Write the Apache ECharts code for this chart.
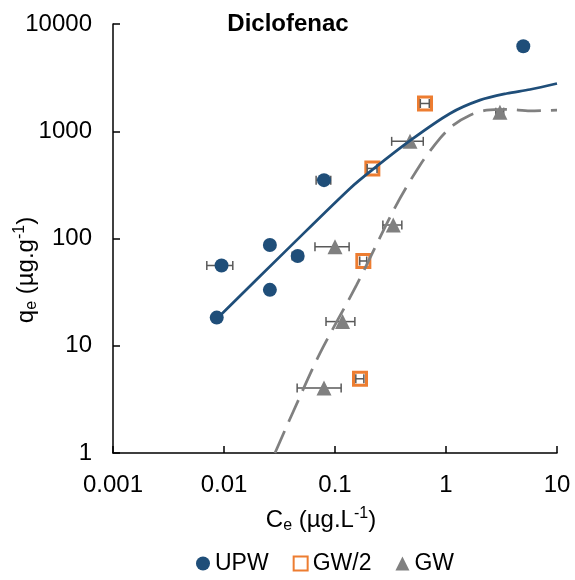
<!DOCTYPE html>
<html>
<head>
<meta charset="utf-8">
<script src="https://cdn.jsdelivr.net/npm/echarts@6/dist/echarts.min.js"></script>
<style>
  html, body { margin: 0; padding: 0; background: #fff; }
  #chart { width: 575px; height: 580px; }
</style>
</head>
<body>
<div id="chart"></div>
<script>
// Diclofenac adsorption isotherms: Ce (µg/L) vs qe (µg/g)
const upwCe    = [0.0086, 0.0095, 0.0259, 0.0259, 0.0461, 0.0796, 4.97];
const upwQe    = [18.3, 56, 87, 33.2, 68.7, 350, 6200];
const upwCeErr = [0, 0.0025, 0, 0, 0.005, 0.012, 0];

const gw2Ce    = [0.647, 0.217, 0.18, 0.168];
const gw2Qe    = [1815, 450, 61.7, 4.92];
const gw2CeErr = [0.06, 0.022, 0.013, 0.014];

const gwCe     = [3.06, 0.474, 0.335, 0.1, 0.117, 0.0796];
const gwQe     = [1506, 805, 133.6, 83.9, 16.8, 4.03];
const gwCeErr  = [0.25, 0.15, 0.065, 0.034, 0.034, 0.034];

// Fitted isotherm curves
const upwFitCe = [0.0086, 0.00953, 0.0394, 0.1365, 0.215, 0.491, 1.087, 2.02, 3.52, 5.71, 10];
const upwFitQe = [17.9, 19.8, 84, 293, 434, 839, 1465, 1949, 2249, 2450, 2786];
const gwFitCe  = [0.0288, 0.0421, 0.0733, 0.1566, 0.3477, 0.583, 0.883, 1.164, 1.645, 2.33, 3.52, 5.71, 10];
const gwFitQe  = [1, 2.44, 8.53, 36.9, 195, 483, 857, 1140, 1413, 1572, 1600, 1550, 1575];

const xTickLabels = ['0.001', '0.01', '0.1', '1', '10'];
const yTickLabels = ['1', '10', '100', '1000', '10000'];

const FONT = 'Liberation Sans, Arial, sans-serif';
const BLUE = '#1f4e79';
const ORANGE = '#ed7d31';
const GREY = '#808080';
const ERR = '#595959';

const pairs = (xs, ys) => xs.map((x, i) => [x, ys[i]]);

function errorBars(name, ce, qe, err, z) {
  const data = [];
  ce.forEach((x, i) => { if (err[i] > 0) data.push([x - err[i], x + err[i], qe[i]]); });
  return {
    type: 'custom',
    name: name,
    z: z,
    silent: true,
    encode: { x: [0, 1], y: 2 },
    data: data,
    renderItem(params, api) {
      const y = api.value(2);
      const p1 = api.coord([api.value(0), y]);
      const p2 = api.coord([api.value(1), y]);
      const h = 4.5;
      const style = { stroke: ERR, lineWidth: 1.5, fill: null };
      return {
        type: 'group',
        children: [
          { type: 'line', shape: { x1: p1[0], y1: p1[1], x2: p2[0], y2: p2[1] }, style: style },
          { type: 'line', shape: { x1: p1[0], y1: p1[1] - h, x2: p1[0], y2: p1[1] + h }, style: style },
          { type: 'line', shape: { x1: p2[0], y1: p2[1] - h, x2: p2[0], y2: p2[1] + h }, style: style }
        ]
      };
    }
  };
}

const axisCommon = {
  type: 'log',
  logBase: 10,
  axisLine: { show: true, onZero: false, lineStyle: { color: '#000', width: 1.5 } },
  axisTick: { show: true, inside: true, length: 7, lineStyle: { color: '#000', width: 1.5 } },
  minorTick: { show: false },
  splitLine: { show: false },
  minorSplitLine: { show: false }
};

const chart = echarts.init(document.getElementById('chart'), null, { renderer: 'canvas' });

chart.setOption({
  animation: false,
  backgroundColor: '#fff',
  textStyle: { fontFamily: FONT },
  grid: { left: 113, right: 18, top: 24, bottom: 127, containLabel: false },
  xAxis: Object.assign({}, axisCommon, {
    min: 0.001, max: 10,
    axisLabel: {
      margin: 20, fontSize: 24, color: '#000', fontFamily: FONT,
      formatter: v => xTickLabels[Math.round(Math.log10(v)) + 3]
    }
  }),
  yAxis: Object.assign({}, axisCommon, {
    min: 1, max: 10000,
    axisLabel: {
      margin: 21, fontSize: 24, color: '#000', fontFamily: FONT,
      formatter: v => yTickLabels[Math.round(Math.log10(v))]
    }
  }),
  legend: {
    data: ['UPW', 'GW/2', 'GW'],
    left: 191,
    top: 547,
    itemWidth: 14,
    itemHeight: 14,
    itemGap: 24,
    textStyle: { fontSize: 23, color: '#000', fontFamily: FONT }
  },
  graphic: [
    {
      type: 'text', x: 288, y: 24, silent: true,
      style: {
        text: 'Diclofenac', font: 'bold 24px ' + FONT, fill: '#000',
        align: 'center', verticalAlign: 'middle', textAlign: 'center', textVerticalAlign: 'middle'
      }
    },
    {
      type: 'text', x: 321, y: 520, silent: true,
      style: {
        text: 'C{sub|e} (µg.L{sup|-1})', font: '24px ' + FONT, fill: '#000',
        lineHeight: 28,
        align: 'center', verticalAlign: 'middle', textAlign: 'center', textVerticalAlign: 'middle',
        rich: {
          sub: { fontSize: 16, fontFamily: FONT, lineHeight: 16, verticalAlign: 'bottom', fill: '#000' },
          sup: { fontSize: 16, fontFamily: FONT, lineHeight: 16, verticalAlign: 'top', fill: '#000' }
        }
      }
    },
    {
      type: 'text', x: 26, y: 270, rotation: Math.PI / 2, silent: true,
      style: {
        text: 'q{sub|e} (µg.g{sup|-1})', font: '24px ' + FONT, fill: '#000',
        lineHeight: 28,
        align: 'center', verticalAlign: 'middle', textAlign: 'center', textVerticalAlign: 'middle',
        rich: {
          sub: { fontSize: 16, fontFamily: FONT, lineHeight: 16, verticalAlign: 'bottom', fill: '#000' },
          sup: { fontSize: 16, fontFamily: FONT, lineHeight: 16, verticalAlign: 'top', fill: '#000' }
        }
      }
    }
  ],
  series: [
    errorBars('UPW error', upwCe, upwQe, upwCeErr, 3),
    {
      name: 'UPW', type: 'scatter', z: 4,
      symbol: 'circle', symbolSize: 14,
      itemStyle: { color: BLUE, opacity: 1 },
      data: pairs(upwCe, upwQe)
    },
    {
      name: 'GW/2', type: 'scatter', z: 4,
      symbol: 'rect', symbolSize: 13,
      itemStyle: { color: '#fff', borderColor: ORANGE, borderWidth: 3, opacity: 1 },
      data: pairs(gw2Ce, gw2Qe)
    },
    errorBars('GW/2 error', gw2Ce, gw2Qe, gw2CeErr, 5),
    errorBars('GW error', gwCe, gwQe, gwCeErr, 3),
    {
      name: 'GW', type: 'scatter', z: 4,
      symbol: 'triangle', symbolSize: 15,
      itemStyle: { color: GREY, opacity: 1 },
      data: pairs(gwCe, gwQe)
    },
    {
      name: 'UPW fit', type: 'line', z: 6,
      smooth: 0.3, showSymbol: false, symbol: 'none',
      lineStyle: { color: BLUE, width: 2.75 },
      data: pairs(upwFitCe, upwFitQe)
    },
    {
      name: 'GW fit', type: 'line', z: 6,
      smooth: 0.3, showSymbol: false, symbol: 'none',
      lineStyle: { color: GREY, width: 2.75, type: [24, 10] },
      data: pairs(gwFitCe, gwFitQe)
    }
  ]
});
</script>
</body>
</html>
